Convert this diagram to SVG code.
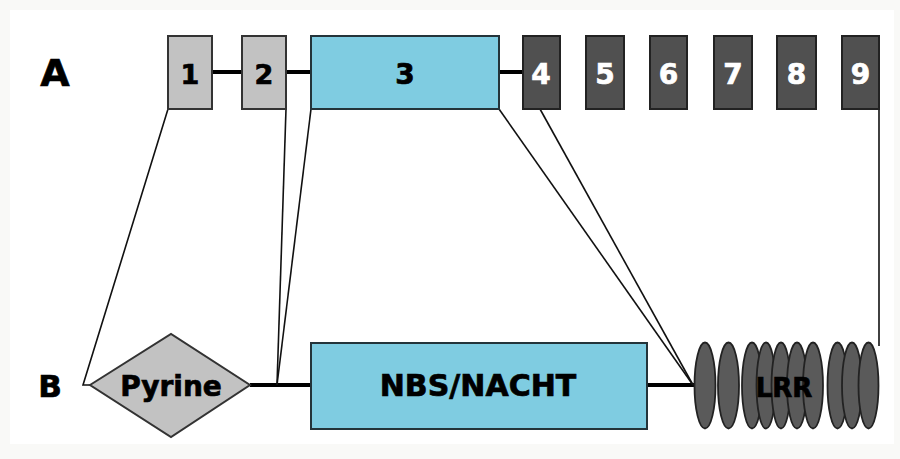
<svg xmlns="http://www.w3.org/2000/svg" width="900" height="459" viewBox="0 0 900 459">
<style>
.lbl{font-family:"DejaVu Sans","Liberation Sans",sans-serif;font-weight:bold;text-anchor:middle;stroke-width:0.7}
.grey{fill:#c2c2c2;stroke:#333;stroke-width:2}
.cyan{fill:#7fcce1;stroke:#24343a;stroke-width:2}
.dark{fill:#505050;stroke:#222;stroke-width:2}
.rep{fill:#5a5a5a;stroke:#222;stroke-width:1.8}
.thick{stroke:#000;stroke-width:4;fill:none}
.thin{stroke:#111;stroke-width:1.6;fill:none}
.blk{fill:#000;stroke:#000}
.wht{fill:#fff;stroke:#fff}
</style>
<rect x="0" y="0" width="900" height="459" fill="#f9f9f7"/>
<rect x="10" y="10" width="884" height="434" fill="#ffffff"/>
<g id="connectors">
<line class="thick" x1="212" y1="72" x2="242" y2="72"/>
<line class="thick" x1="286" y1="72" x2="311" y2="72"/>
<line class="thick" x1="499" y1="72" x2="523" y2="72"/>
<line class="thick" x1="250" y1="385" x2="311" y2="385"/>
<line class="thick" x1="647" y1="385" x2="694" y2="385"/>
<polyline class="thin" points="168,109 83,385 90,385"/>
<line class="thin" x1="286" y1="109" x2="277" y2="385"/>
<line class="thin" x1="311" y1="109" x2="277" y2="385"/>
<line class="thin" x1="499" y1="109" x2="693" y2="385"/>
<line class="thin" x1="540" y1="109" x2="693" y2="385"/>
<line class="thin" x1="879" y1="109" x2="879" y2="346"/>
</g>
<text class="lbl blk" x="55" y="86" font-size="38">A</text>
<text class="lbl blk" x="50" y="397" font-size="31">B</text>
<g id="exon1"><rect class="grey" x="168" y="36" width="44" height="73"/><text class="lbl blk" x="190" y="84" font-size="27">1</text></g>
<g id="exon2"><rect class="grey" x="242" y="36" width="44" height="73"/><text class="lbl blk" x="264" y="84" font-size="27">2</text></g>
<g id="exon3"><rect class="cyan" x="311" y="36" width="188" height="73"/><text class="lbl blk" x="405" y="84" font-size="28">3</text></g>
<g id="exon4"><rect class="dark" x="523" y="36" width="37" height="73"/><text class="lbl wht" x="541" y="84" font-size="28">4</text></g>
<g id="exon5"><rect class="dark" x="586" y="36" width="38" height="73"/><text class="lbl wht" x="605" y="84" font-size="28">5</text></g>
<g id="exon6"><rect class="dark" x="650" y="36" width="37" height="73"/><text class="lbl wht" x="668.5" y="84" font-size="28">6</text></g>
<g id="exon7"><rect class="dark" x="714" y="36" width="38" height="73"/><text class="lbl wht" x="733" y="84" font-size="28">7</text></g>
<g id="exon8"><rect class="dark" x="777" y="36" width="39" height="73"/><text class="lbl wht" x="796.5" y="84" font-size="28">8</text></g>
<g id="exon9"><rect class="dark" x="842" y="36" width="37" height="73"/><text class="lbl wht" x="860.5" y="84" font-size="28">9</text></g>
<g id="pyrine"><polygon class="grey" points="90,385 171,334 250,385 171,437"/><text class="lbl blk" x="171" y="396" font-size="28">Pyrine</text></g>
<g id="nbs"><rect class="cyan" x="311" y="343" width="336" height="86"/><text class="lbl blk" x="478" y="396" font-size="30">NBS/NACHT</text></g>
<g id="lrr">
<ellipse class="rep" cx="705" cy="385.5" rx="10.5" ry="43"/>
<ellipse class="rep" cx="728.5" cy="385.5" rx="10.5" ry="43"/>
<ellipse class="rep" cx="752" cy="385.5" rx="10" ry="43"/>
<ellipse class="rep" cx="766" cy="385.5" rx="9.5" ry="43"/>
<ellipse class="rep" cx="781" cy="385.5" rx="9.5" ry="43"/>
<ellipse class="rep" cx="797" cy="385.5" rx="10" ry="43"/>
<ellipse class="rep" cx="813" cy="385.5" rx="10" ry="43"/>
<ellipse class="rep" cx="837.5" cy="385.5" rx="10" ry="43"/>
<ellipse class="rep" cx="852" cy="385.5" rx="10" ry="43"/>
<ellipse class="rep" cx="868.5" cy="385.5" rx="10" ry="43"/>
<text class="lbl blk" x="784" y="397" font-size="26">LRR</text>
</g>
</svg>
